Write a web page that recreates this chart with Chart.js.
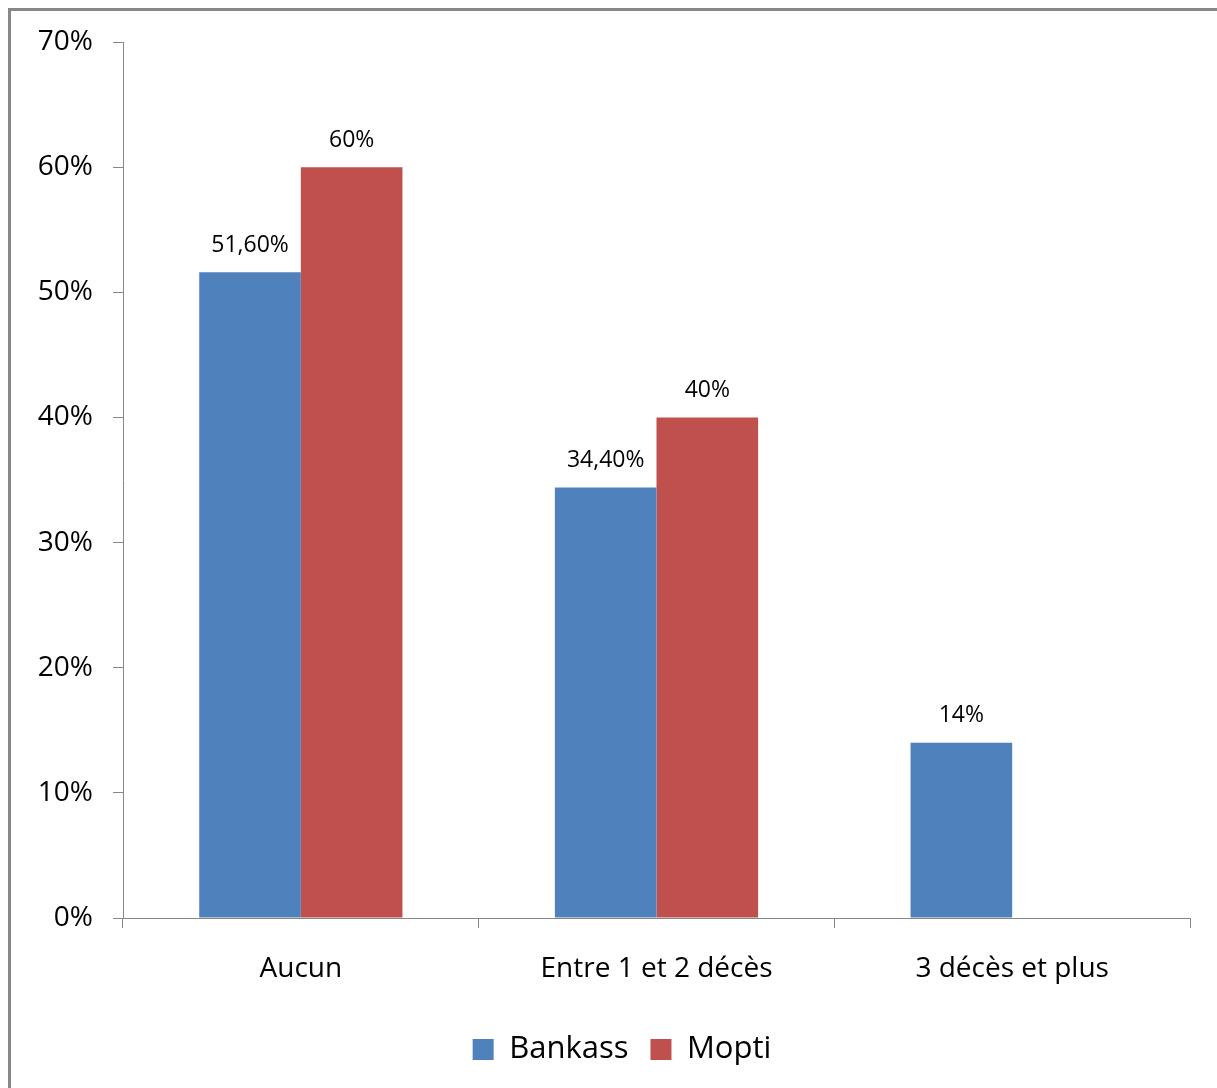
<!DOCTYPE html>
<html>
<head>
<meta charset="utf-8">
<script src="https://cdn.jsdelivr.net/npm/chart.js@4.4.1/dist/chart.umd.min.js"></script>
<style>
  html, body { margin: 0; padding: 0; background: #fff; overflow: hidden; }
  #wrap { position: relative; width: 1217px; height: 1088px; }
  #frame { position: absolute; left: 8px; top: 8px; width: 1400px; height: 1300px;
           border-left: 3px solid #878787; border-top: 3px solid #878787; pointer-events: none; }
  canvas { position: absolute; left: 0; top: 0; }
</style>
</head>
<body>
<div id="wrap">
  <canvas id="c" width="1217" height="1088"></canvas>
  <div id="frame"></div>
</div>
<script>
const categories = ["Aucun", "Entre 1 et 2 décès", "3 décès et plus"];
const seriesNames = ["Bankass", "Mopti"];
const bankass = [51.6, 34.4, 14];
const mopti = [60, 40, null];
const yTicks = [0, 10, 20, 30, 40, 50, 60, 70];

const FONT = "'Open Sans', 'Noto Sans', sans-serif";

function fmt(v) {
  return Number.isInteger(v) ? v + "%" : v.toFixed(2).replace(".", ",") + "%";
}

const dataLabels = {
  id: "dataLabels",
  afterDatasetsDraw(chart) {
    const ctx = chart.ctx;
    ctx.save();
    ctx.font = "23px " + FONT;
    ctx.fillStyle = "#000";
    ctx.textAlign = "center";
    ctx.textBaseline = "middle";
    chart.data.datasets.forEach((ds, i) => {
      const meta = chart.getDatasetMeta(i);
      meta.data.forEach((el, j) => {
        const v = ds.data[j];
        if (v === null || v === undefined) return;
        ctx.fillText(fmt(v), el.x, el.y - 27);
      });
    });
    ctx.restore();
  }
};

const legendShift = {
  id: "legendShift",
  afterLayout(chart) {
    if (chart.legend) { chart.legend.left += 9; chart.legend.right += 9; }
  }
};

new Chart(document.getElementById("c"), {
  type: "bar",
  data: {
    labels: categories,
    datasets: [
      { label: seriesNames[0], data: bankass, backgroundColor: "#4F81BD" },
      { label: seriesNames[1], data: mopti, backgroundColor: "#C0504D" }
    ]
  },
  options: {
    responsive: false,
    animation: false,
    devicePixelRatio: 1,
    categoryPercentage: 0.5714,
    barPercentage: 1,
    layout: { padding: { top: 42, right: 27, bottom: 13, left: 36 } },
    plugins: {
      tooltip: { enabled: false },
      legend: {
        position: "bottom",
        labels: {
          font: { family: FONT, size: 31 },
          color: "#000",
          boxWidth: 21,
          boxHeight: 21,
          padding: 22
        }
      }
    },
    scales: {
      x: {
        afterFit(scale) { scale.height = 94; },
        grid: { display: true, drawOnChartArea: false, drawTicks: true, tickLength: 10, color: "#878787", offset: true },
        border: { display: true, color: "#878787", width: 1 },
        ticks: { font: { family: FONT, size: 28 }, color: "#000", padding: 24, maxRotation: 0 }
      },
      y: {
        min: 0, max: 70,
        afterFit(scale) { scale.width = 87; },
        afterBuildTicks(scale) { scale.ticks = yTicks.map(v => ({ value: v })); },
        grid: { display: true, drawOnChartArea: false, drawTicks: true, tickLength: 10, color: "#878787" },
        border: { display: true, color: "#878787", width: 1 },
        ticks: { font: { family: FONT, size: 28 }, color: "#000", padding: 20, callback: v => v + "%" }
      }
    }
  },
  plugins: [dataLabels, legendShift]
});
</script>
</body>
</html>
